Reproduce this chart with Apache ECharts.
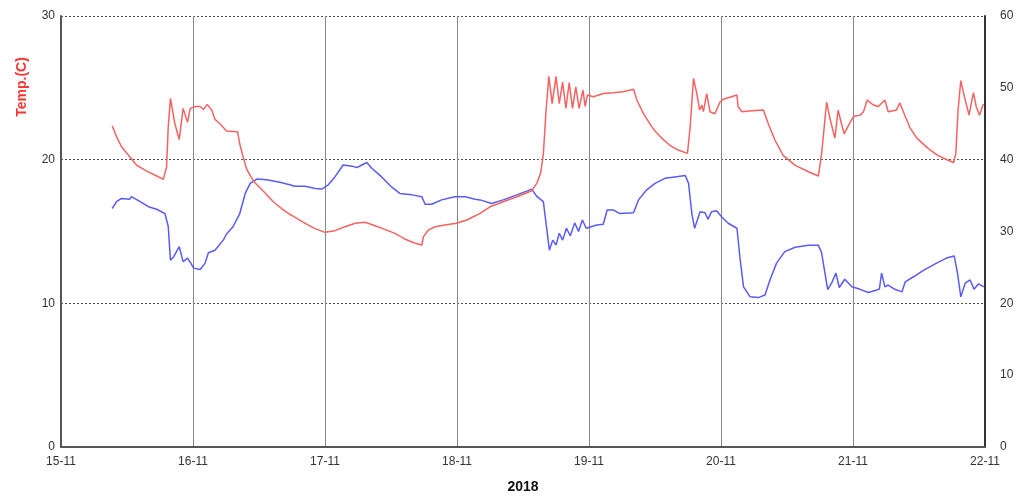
<!DOCTYPE html>
<html>
<head>
<meta charset="utf-8">
<script src="https://cdn.jsdelivr.net/npm/echarts@6/dist/echarts.min.js"></script>
<style>html,body{margin:0;padding:0;background:#fff}#c{width:1024px;height:501px}</style>
</head>
<body>
<div id="c"></div>
<script>
// hours since 15-11 00:00
const dayLabels = ['15-11','16-11','17-11','18-11','19-11','20-11','21-11','22-11'];
const yearLabel = '2018';
const tempAxisName = 'Temp.(C)';

const tempHours = [9.3,10.1,11.0,12.5,13.8,15.6,17.4,18.6,19.2,19.5,19.9,20.7,21.5,22.2,23.0,23.5,24.4,25.3,25.9,26.6,27.4,28.0,28.9,30.1,32.1,32.5,33.1,33.8,35.0,36.8,38.6,40.1,41.6,42.5,44.4,46.2,48.0,49.8,51.6,53.5,55.3,57.1,58.9,60.7,62.5,64.4,65.6,65.9,66.8,68.0,69.8,71.9,73.8,76.2,78.0,80.4,82.9,85.6,86.5,87.2,87.7,88.2,88.7,89.3,90.0,90.6,91.2,91.8,92.4,93.0,93.6,94.2,94.9,95.3,95.7,96.8,98.6,100.4,102.2,104.1,104.7,105.9,107.4,108.0,109.2,110.7,112.2,113.9,114.4,115.0,115.6,116.1,116.5,116.8,117.4,118.0,118.9,119.8,120.4,121.6,122.9,123.1,123.8,125.6,127.7,128.6,129.8,131.3,133.5,135.9,137.7,138.3,139.2,139.8,140.7,141.3,141.9,142.4,143.2,144.1,145.3,145.9,146.6,147.7,148.6,149.8,150.4,151.9,152.5,153.5,154.4,155.6,157.6,159.4,161.2,162.3,162.7,163.1,163.6,164.4,165.1,165.9,166.4,167.0,167.7];
const tempValues = [22.36,21.6,20.9,20.2,19.6,19.2,18.86,18.63,19.5,22.3,24.27,22.5,21.4,23.57,22.6,23.57,23.7,23.7,23.5,23.85,23.45,22.8,22.5,22.0,21.95,21.1,20.2,19.3,18.5,17.8,17.07,16.6,16.2,16.0,15.57,15.2,14.94,15.06,15.33,15.57,15.64,15.4,15.15,14.87,14.48,14.18,14.06,14.64,15.1,15.33,15.45,15.57,15.8,16.26,16.72,17.07,17.42,17.84,18.35,19.05,20.4,23.46,25.8,23.9,25.8,23.9,25.4,23.57,25.36,23.57,25.06,23.57,24.85,23.7,24.5,24.38,24.6,24.66,24.73,24.9,24.15,23.2,22.3,22.0,21.5,21.0,20.67,20.44,22.3,25.66,24.6,23.46,23.8,23.34,24.6,23.34,23.2,24.0,24.2,24.34,24.5,23.7,23.34,23.4,23.45,22.5,21.37,20.3,19.6,19.16,18.86,20.44,24.0,22.88,21.5,23.45,22.5,21.8,22.4,23.0,23.1,23.34,24.15,23.8,23.7,24.15,23.34,23.45,23.96,23.0,22.2,21.5,20.8,20.3,19.98,19.8,20.44,23.45,25.5,24.15,23.1,24.66,23.7,23.1,23.87];

const humHours = [9.3,10.1,11.0,12.5,12.8,14.4,15.9,17.4,18.9,19.5,19.9,20.5,21.5,22.2,23.0,23.6,24.1,25.3,26.2,26.8,28.0,29.5,30.1,31.3,32.5,33.5,34.4,35.6,37.4,39.8,41.6,42.5,44.4,46.2,47.4,48.6,49.8,51.3,52.9,53.8,54.7,55.6,56.5,58.3,60.1,61.6,63.8,65.6,66.2,67.4,69.2,71.6,73.5,75.3,76.2,78.3,80.4,82.9,85.6,86.5,87.7,88.8,89.4,90.0,90.6,91.2,91.9,92.6,93.4,94.1,94.8,95.5,97.4,98.6,99.3,100.4,101.6,104.1,105.0,106.5,108.0,109.8,111.6,113.5,114.1,114.7,115.2,116.2,117.1,117.6,118.3,119.2,120.1,121.3,122.9,123.5,124.1,125.3,126.8,128.0,128.9,130.1,131.6,133.5,135.9,137.7,138.3,139.4,140.1,140.9,141.5,142.5,143.8,145.3,146.8,148.3,148.8,149.2,149.8,150.4,151.6,152.9,153.5,155.0,156.8,159.2,161.0,162.4,163.0,163.6,164.4,165.3,166.0,166.8,167.8];
const humValues = [33.2,34.15,34.6,34.5,34.85,34.15,33.45,33.1,32.5,30.7,26.0,26.5,27.9,25.8,26.3,25.6,24.9,24.7,25.6,27.05,27.4,28.8,29.65,30.7,32.5,35.3,36.7,37.3,37.2,36.85,36.5,36.3,36.3,36.0,35.9,36.5,37.6,39.26,39.1,38.9,39.26,39.6,38.8,37.6,36.2,35.3,35.1,34.85,33.8,33.8,34.4,34.85,34.85,34.5,34.4,33.9,34.4,35.1,35.9,34.9,34.15,27.4,28.8,28.1,29.75,28.8,30.45,29.4,31.2,30.0,31.6,30.45,30.9,31.0,33.0,33.0,32.5,32.6,34.4,35.8,36.7,37.4,37.6,37.8,36.7,32.5,30.45,32.76,32.6,31.7,32.76,32.9,32.06,31.15,30.45,26.0,22.3,20.9,20.8,21.16,23.25,25.6,27.2,27.8,28.1,28.1,27.0,21.9,22.8,24.2,22.2,23.35,22.3,21.95,21.5,21.85,22.0,24.2,22.3,22.55,21.95,21.6,23.0,23.7,24.6,25.6,26.3,26.6,24.2,20.9,22.8,23.25,21.95,22.7,22.3];

const tempData = tempHours.map((h, i) => [h, tempValues[i]]);
const humData = humHours.map((h, i) => [h, humValues[i]]);

const font = '"Liberation Sans", Arial, sans-serif';
const chart = echarts.init(document.getElementById('c'), null, {renderer: 'canvas'});
chart.setOption({
  animation: false,
  backgroundColor: '#fff',
  grid: {left: 61, right: 39, top: 16, bottom: 54, containLabel: false},
  xAxis: {
    type: 'value', min: 0, max: 168, interval: 24,
    name: yearLabel, nameLocation: 'middle', nameGap: 33,
    nameTextStyle: {fontFamily: font, fontSize: 14, fontWeight: 'bold', color: '#111'},
    axisLine: {show: true, onZero: false, lineStyle: {color: '#555', width: 2}},
    axisTick: {show: false},
    axisLabel: {fontFamily: font, fontSize: 12, color: '#333', margin: 9,
      formatter: v => dayLabels[Math.round(v / 24)] || ''},
    splitLine: {show: true, lineStyle: {color: '#888', width: 1, type: 'solid'}}
  },
  yAxis: [{
    type: 'value', min: 0, max: 30, interval: 10, position: 'left',
    axisLine: {show: true, lineStyle: {color: '#555', width: 2}},
    axisTick: {show: false},
    axisLabel: {fontFamily: font, fontSize: 12, color: '#333', margin: 6},
    splitLine: {show: true, lineStyle: {color: '#555', width: 1, type: [2, 2]}}
  }, {
    type: 'value', min: 0, max: 60, interval: 10, position: 'right',
    axisLine: {show: true, lineStyle: {color: '#333', width: 2}},
    axisTick: {show: false},
    axisLabel: {fontFamily: font, fontSize: 12, color: '#333', margin: 15},
    splitLine: {show: false}
  }],
  graphic: [{
    type: 'text', x: 22, y: 87, rotation: Math.PI / 2,
    style: {text: tempAxisName, fill: '#ff3333', font: 'bold 14px ' + font,
      textAlign: 'center', textVerticalAlign: 'middle'}
  }],
  series: [{
    type: 'line', yAxisIndex: 0, data: tempData, showSymbol: false,
    lineStyle: {color: '#f56262', width: 1.5}, itemStyle: {color: '#f56262'}, z: 3
  }, {
    type: 'line', yAxisIndex: 1, data: humData, showSymbol: false,
    lineStyle: {color: '#5b5bf2', width: 1.5}, itemStyle: {color: '#5b5bf2'}, z: 2
  }]
});
</script>
</body>
</html>
